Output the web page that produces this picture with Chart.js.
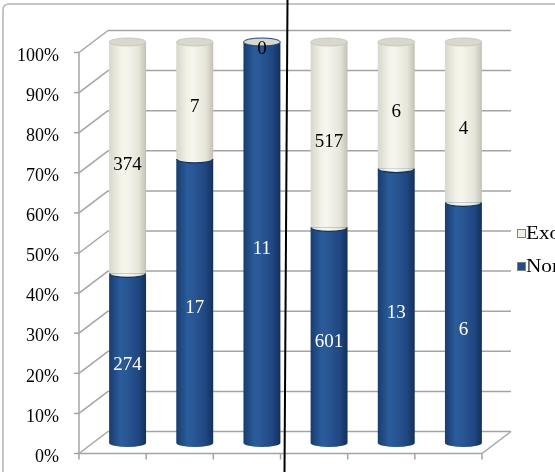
<!DOCTYPE html>
<html>
<head>
<meta charset="utf-8">
<script src="https://cdn.jsdelivr.net/npm/chart.js@4"></script>
<style>
  html, body { margin: 0; padding: 0; background: #fff; }
</style>
</head>
<body>
<canvas id="grafico" width="555" height="472"></canvas>
<script>
// dados
const categorias = ['Grupo 1', 'Grupo 2', 'Grupo 3', 'Grupo 4', 'Grupo 5', 'Grupo 6'];
const nomeados = [274, 17, 11, 601, 13, 6];
const exonerados = [374, 7, 0, 517, 6, 4];
const series = ['Nomeados', 'Exonerados'];
const ticksY = [0, 10, 20, 30, 40, 50, 60, 70, 80, 90, 100];

const FONTE = '"Liberation Serif", "Times New Roman", serif';
const AZUL = '#1f4e8a';
const CREME = '#f2f1e6';
const GRADE = '#a4a4a4';

// deslocamentos do plano frontal e do fundo (pseudo 3D)
const FRENTE = { dx: -15, dy: 10.5 };
const FUNDO = { dx: 14, dy: -11.5 };

const pct = (a, b) => (a + b) ? a / (a + b) * 100 : 0;
const pctNomeados = nomeados.map((v, i) => pct(v, exonerados[i]));
const pctExonerados = exonerados.map((v, i) => pct(v, nomeados[i]));

function gradiente(chart, i, cores) {
    const x = chart.scales.x;
    if (!chart.chartArea || !x) return cores[2];
    const cx = x.getPixelForValue(i);
    const w = x.width / categorias.length * 0.55;
    const g = chart.ctx.createLinearGradient(cx - w / 2, 0, cx + w / 2, 0);
    g.addColorStop(0, cores[0]);
    g.addColorStop(0.3, cores[1]);
    g.addColorStop(0.45, cores[2]);
    g.addColorStop(0.8, cores[3]);
    g.addColorStop(1, cores[4]);
    return g;
}
const coresAzul = ['#183d6e', '#2a5b9b', '#2a5896', '#1f4680', '#13305a'];
const coresCreme = ['#d8d7cb', '#f3f2e8', '#f7f6ee', '#e6e5d9', '#c2c1b4'];

function linha(ctx, x1, y1, x2, y2) {
    ctx.beginPath();
    ctx.moveTo(x1, y1);
    ctx.lineTo(x2, y2);
    ctx.stroke();
}

const cena3d = {
    id: 'cena3d',
    beforeDatasetsDraw(chart) {
        const ctx = chart.ctx;
        const y = chart.scales.y;
        const a = chart.chartArea;
        ctx.save();

        // moldura externa
        ctx.strokeStyle = '#b4b4b4';
        ctx.lineWidth = 1.5;
        ctx.beginPath();
        ctx.moveTo(3, 472);
        ctx.lineTo(3, 10);
        ctx.quadraticCurveTo(3, 4, 9, 4);
        ctx.lineTo(555, 4);
        ctx.stroke();

        ctx.strokeStyle = GRADE;
        ctx.lineWidth = 1.5;
        const xf = a.left + FRENTE.dx, xb = a.left + FUNDO.dx;
        const xfr = a.right + FRENTE.dx, xbr = a.right + FUNDO.dx;
        ticksY.forEach(v => {
            const py = y.getPixelForValue(v);
            // linha de grade na parede do fundo
            linha(ctx, xb, py + FUNDO.dy, xbr, py + FUNDO.dy);
            // parede lateral
            linha(ctx, xf, py + FRENTE.dy, xb, py + FUNDO.dy);
            // marcação do eixo
            linha(ctx, xf - 5, py + FRENTE.dy, xf, py + FRENTE.dy);
        });
        const y0 = y.getPixelForValue(0), y100 = y.getPixelForValue(100);
        linha(ctx, xf, y100 + FRENTE.dy, xf, y0 + FRENTE.dy);
        // piso
        linha(ctx, xf, y0 + FRENTE.dy, xfr, y0 + FRENTE.dy);
        linha(ctx, xfr, y0 + FRENTE.dy, xbr, y0 + FUNDO.dy);
        // marcas das categorias
        const passo = (a.right - a.left) / categorias.length;
        for (let k = 0; k <= categorias.length; k++) {
            const px = a.left + k * passo + FRENTE.dx;
            linha(ctx, px, y0 + FRENTE.dy, px, y0 + FRENTE.dy + 6);
        }
        ctx.restore();
    },
    afterDatasetsDraw(chart) {
        const ctx = chart.ctx;
        const m0 = chart.getDatasetMeta(0);
        const m1 = chart.getDatasetMeta(1);
        const ry = 4;
        ctx.save();
        m0.data.forEach((bar, i) => {
            const sup = m1.data[i];
            const rx = bar.width / 2;
            // fundo arredondado
            ctx.fillStyle = gradiente(chart, i, coresAzul);
            ctx.beginPath();
            ctx.ellipse(bar.x, bar.base, rx, ry, 0, 0, Math.PI);
            ctx.fill();
            // transição azul / creme
            if (exonerados[i] > 0) {
                ctx.fillStyle = gradiente(chart, i, coresCreme);
                ctx.beginPath();
                ctx.ellipse(bar.x, bar.y, rx, ry, 0, 0, Math.PI);
                ctx.fill();
                ctx.strokeStyle = '#12305a';
                ctx.lineWidth = 1.2;
                ctx.beginPath();
                ctx.ellipse(bar.x, bar.y, rx - 0.5, ry, 0, 0, Math.PI);
                ctx.stroke();
            }
            // tampa superior
            ctx.beginPath();
            ctx.ellipse(sup.x, sup.y, rx, ry, 0, 0, Math.PI * 2);
            ctx.fillStyle = '#d9d8cf';
            ctx.fill();
            ctx.strokeStyle = exonerados[i] > 0 ? '#c9c8bd' : '#1d457d';
            ctx.lineWidth = 1;
            ctx.stroke();
        });

        // rótulos de dados
        ctx.font = '19px ' + FONTE;
        ctx.textAlign = 'center';
        ctx.textBaseline = 'middle';
        m0.data.forEach((bar, i) => {
            ctx.fillStyle = '#ffffff';
            ctx.fillText(String(nomeados[i]), bar.x, (bar.y + bar.base) / 2 + 7);
            const sup = m1.data[i];
            ctx.fillStyle = '#000000';
            ctx.fillText(String(exonerados[i]), sup.x, (sup.y + sup.base) / 2 + 7);
        });

        // linha divisória
        const x = chart.scales.x;
        const meio = (x.getPixelForValue(2) + x.getPixelForValue(3)) / 2;
        ctx.strokeStyle = '#000000';
        ctx.lineWidth = 2;
        linha(ctx, meio - 8, 0, meio - 11, 472);

        // legenda
        const itens = [
            { texto: series[1], cor: CREME, y: 233.5 },
            { texto: series[0], cor: AZUL, y: 266.5 }
        ];
        ctx.textAlign = 'left';
        itens.forEach(it => {
            ctx.fillStyle = it.cor;
            ctx.fillRect(517, it.y - 4.5, 9, 9);
            ctx.strokeStyle = '#7f7f7f';
            ctx.lineWidth = 1;
            ctx.strokeRect(517.5, it.y - 4, 8, 8);
            ctx.save();
            ctx.translate(526, it.y + 1);
            ctx.scale(1.18, 1);
            ctx.font = '18px ' + FONTE;
            ctx.fillStyle = '#000000';
            ctx.fillText(it.texto, 0, 0);
            ctx.restore();
        });
        ctx.restore();
    }
};

new Chart(document.getElementById('grafico'), {
    type: 'bar',
    data: {
        labels: categorias,
        datasets: [
            {
                label: series[0],
                data: pctNomeados,
                backgroundColor: ctx => gradiente(ctx.chart, ctx.dataIndex, coresAzul)
            },
            {
                label: series[1],
                data: pctExonerados,
                backgroundColor: ctx => gradiente(ctx.chart, ctx.dataIndex, coresCreme)
            }
        ]
    },
    options: {
        responsive: false,
        animation: false,
        devicePixelRatio: 1,
        layout: { padding: { top: 42, right: 58, bottom: 29, left: 0 } },
        datasets: { bar: { categoryPercentage: 1, barPercentage: 0.55, borderWidth: 0 } },
        plugins: {
            legend: { display: false },
            tooltip: { enabled: false }
        },
        scales: {
            x: { stacked: true, display: false },
            y: {
                stacked: true,
                min: 0,
                max: 100,
                afterFit: s => {
                    s.width = 94;
                    s.paddingTop = 0;
                    s.paddingBottom = 0;
                },
                afterBuildTicks: s => { s.ticks = ticksY.map(v => ({ value: v })); },
                grid: { display: false, drawTicks: false },
                border: { display: false },
                ticks: {
                    padding: 35,
                    labelOffset: 14,
                    color: '#000',
                    font: { family: FONTE, size: 18 },
                    callback: v => v + '%'
                }
            }
        }
    },
    plugins: [cena3d]
});
</script>
</body>
</html>
